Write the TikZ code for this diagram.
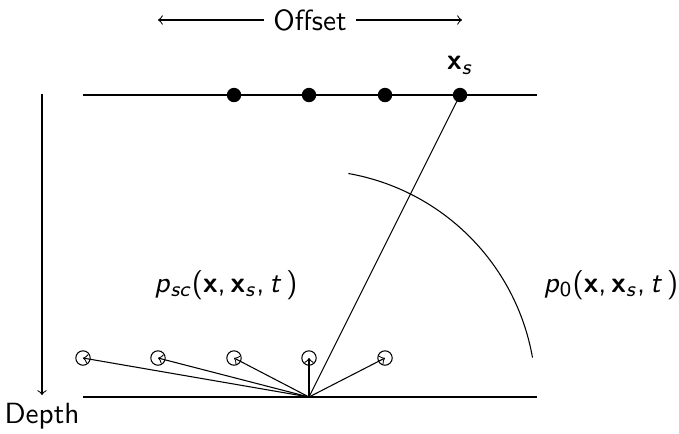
\documentclass[tikz,border=0pt,11pt]{standalone}
\renewcommand{\familydefault}{\sfdefault}
\newcommand{\bx}{\textbf{x}}
\newcommand{\sub}[1]{\textsubscript{\textit{#1}}}
\tikzset{
  shot/.style={circle, fill=black, inner sep=0pt, minimum size=5.4pt},
  geophone/.style={circle, draw, inner sep=0pt, minimum size=5.4pt},
}
\begin{document}
\begin{tikzpicture}[x=0.375pt, y=-0.375pt]
          \useasboundingbox (0, 0) rectangle (679, 433);
          % surface with the shots
          \coordinate (sl) at (83, 95);
          \coordinate (sr) at (537, 95);
          \draw (sl) -- (sr);
          \foreach \i/\x in {1/234, 2/309, 3/385, 4/460}
            \node[shot] (s\i) at (\x, 95) {};
          \node[above=1pt] (xs) at (s4.north) {\bx\sub{s}};
          % reflector
          \coordinate (bl) at (83, 397);
          \coordinate (br) at (537, 397);
          \coordinate (P) at (309, 397);
          \draw (bl) -- (br);
          \draw (P) -- (s4.center);
          \foreach \i/\x in {1/83, 2/158, 3/234, 4/309, 5/385} {
            \node[geophone] (g\i) at (\x, 358) {};
            \draw[->] (P) -- (g\i.center);
          }
          \draw (P) ++(80:85.1pt) arc[start angle=80, end angle=10, radius=85.1pt];
          % labels
          \coordinate (ol) at (158, 20);
          \coordinate (or) at (462, 20);
          \draw[<->] (ol) -- node[midway, fill=white] (off) {Offset} (or);
          \coordinate (dt) at (42, 94);
          \coordinate (db) at (42, 395);
          \draw[->] (dt) -- (db);
          \node[anchor=north, inner sep=3pt] (depth) at (db) {Depth};
          \node (psc) at (226, 285) {\textit{p}\sub{sc}(\bx,\,\bx\sub{s},\,\textit{t}\,)};
          \node (p0) at (611, 285) {\textit{p}\textsubscript{0}(\bx,\,\bx\sub{s},\,\textit{t}\,)};
        \end{tikzpicture}
\end{document}
